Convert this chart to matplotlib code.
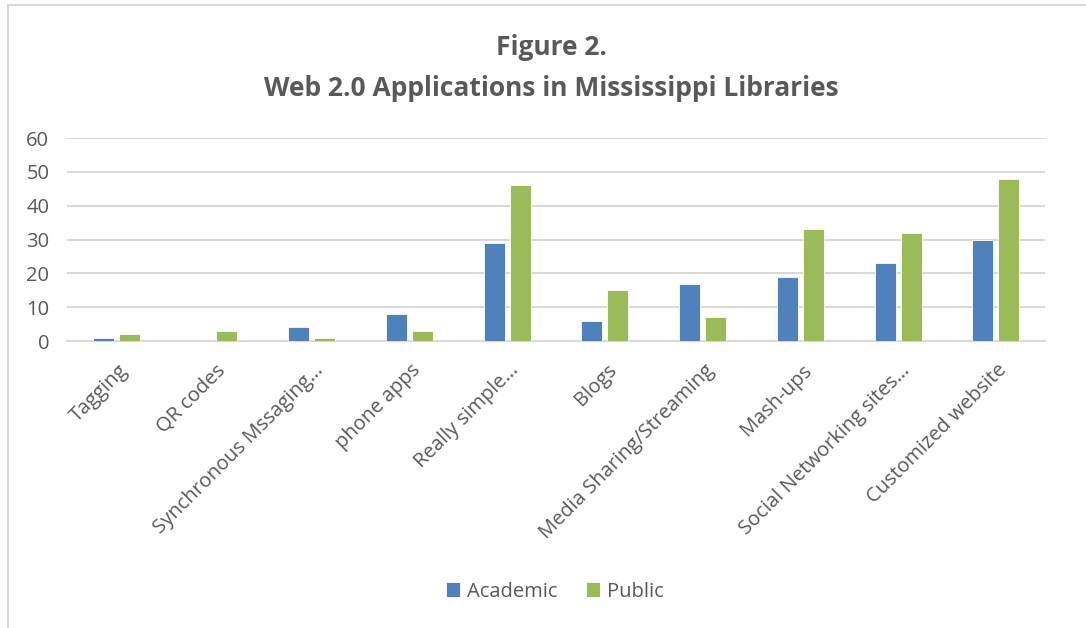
import matplotlib.pyplot as plt
import matplotlib.transforms as mtransforms
import numpy as np
from matplotlib.patches import Rectangle

plt.rcParams['font.family'] = ['Open Sans', 'DejaVu Sans']

categories = ['Tagging', 'QR codes', 'Synchronous Mssaging…', 'phone apps',
              'Really simple…', 'Blogs', 'Media Sharing/Streaming', 'Mash-ups',
              'Social Networking sites…', 'Customized website']
academic = [1, 0, 4, 8, 29, 6, 17, 19, 23, 30]
public = [2, 3, 1, 3, 46, 15, 7, 33, 32, 48]

text_color = '#595959'
blue = '#4F81BD'
green = '#9BBB59'

fig = plt.figure(figsize=(10.86, 6.28), dpi=100)
ax = fig.add_axes([0.062, 0.457, 0.900, 0.323])

x = np.arange(len(categories))
width = 0.215
ax.bar(x - 0.133, academic, width, color=blue, edgecolor='white', linewidth=0.6, label='Academic', zorder=3)
ax.bar(x + 0.133, public, width, color=green, edgecolor='white', linewidth=0.6, label='Public', zorder=3)

ax.set_xlim(-0.5, len(categories) - 0.5)
ax.set_ylim(0, 60)
ax.set_yticks(range(0, 61, 10))
ax.grid(axis='y', color='#D9D9D9', linewidth=1.5, zorder=0)
for s in ['top', 'right', 'left']:
    ax.spines[s].set_visible(False)
ax.spines['bottom'].set_color('#D9D9D9')
ax.spines['bottom'].set_linewidth(1.5)
ax.tick_params(axis='both', length=0, colors=text_color, labelsize=14.5)
ax.tick_params(axis='y', pad=13)
ax.tick_params(axis='x', pad=14)
ax.set_xticks(x)
ax.set_xticklabels(categories, rotation=45, ha='right', rotation_mode='anchor')

# nudge rotated labels slightly right, like Excel does
offset = mtransforms.ScaledTranslation(1 / 72, 0, fig.dpi_scale_trans)
for lbl in ax.get_xticklabels():
    lbl.set_transform(lbl.get_transform() + offset)

fig.text(0.508, 0.925, 'Figure 2.', ha='center', va='center', fontsize=19,
         fontweight='bold', color=text_color)
fig.text(0.508, 0.859, 'Web 2.0 Applications in Mississippi Libraries', ha='center',
         va='center', fontsize=19, fontweight='bold', color=text_color)

fig.legend(loc='center', bbox_to_anchor=(0.511, 0.058), ncol=2, frameon=False,
           fontsize=14.5, labelcolor=text_color, handlelength=0.7, handleheight=0.7,
           handletextpad=0.35, columnspacing=1.4)

fig.patches.append(Rectangle((8 / 1086, -0.1), 1.2, 1 - 5 / 628 + 0.1,
                             transform=fig.transFigure, fill=False,
                             edgecolor='#D9D9D9', linewidth=1.5))

fig.savefig('out.png', dpi=100)
